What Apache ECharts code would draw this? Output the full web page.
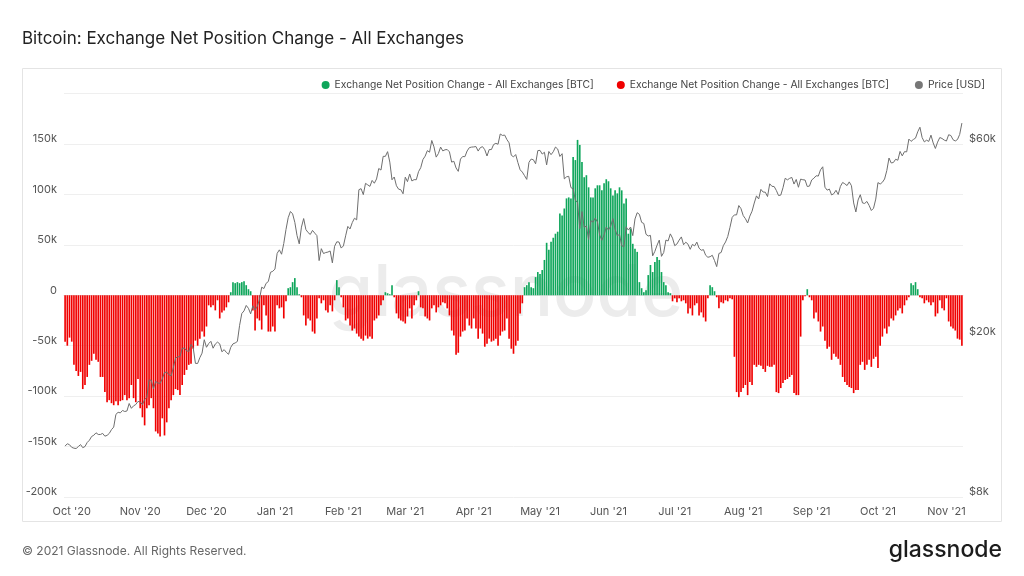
<!DOCTYPE html>
<html>
<head>
<meta charset="utf-8">
<title>Bitcoin: Exchange Net Position Change - All Exchanges</title>
<script src="https://cdn.jsdelivr.net/npm/echarts@6/dist/echarts.min.js"></script>
<style>
html, body { margin: 0; padding: 0; background: #fff; }
#chart { width: 1024px; height: 576px; }
</style>
</head>
<body>
<div id="chart"></div>
<script>
// daily values from 2020-09-28 to 2021-11-08
var firstDay = [2020, 8, 28];
var monthNames = ['Jan','Feb','Mar','Apr','May','Jun','Jul','Aug','Sep','Oct','Nov','Dec'];

// exchange net position change, thousands of BTC
var netChange2020 = [
  -46, -50, -42,
  // Oct
  -46, -69, -75, -80, -76, -93, -89, -81, -69, -65, -58, -64, -66, -81, -81, -96,
  -106, -104, -107, -109, -105, -109, -105, -104, -99, -104, -102, -89, -102, -106, -83,
  // Nov
  -112, -121, -129, -112, -109, -102, -112, -135, -137, -140, -122, -139, -126, -112, -104,
  -99, -93, -94, -99, -89, -79, -74, -69, -68, -53, -45, -50, -43, -36, -41,
  // Dec
  -31, -10, -12, -10, -15, -5, -23, -17, -15, -12, -7, 3, 13, 12, 13, 12,
  13, 14, 10, 6, 4, -15, -35, -23, -25, -34, -10, -20, -36, -36, -31
];
var netChange2021 = [
  // Jan
  -36, -10, -13, -12, -23, -6, 7, 8, 13, 17, 8, 1, -2, -20, -30, -23,
  -25, -36, -38, -23, -3, -8, -5, -15, -17, -10, -16, -5, 15, 8, -2,
  // Feb
  -12, -25, -23, -30, -35, -33, -38, -41, -43, -45, -40, -43, -41, -43,
  -25, -23, -20, -10, -5, 3, 2, 1, 10, -2, -18, -23, -25, -26,
  // Mar
  -28, -21, -13, -23, -10, -5, 4, -12, -13, -21, -23, -25, -13, -10, -17, -12,
  -10, -7, -8, -13, -20, -35, -40, -59, -57, -41, -36, -35, -23, -30, -33,
  // Apr
  -23, -33, -43, -33, -38, -51, -48, -43, -46, -45, -43, -50, -40, -36, -35,
  -23, -43, -53, -58, -50, -45, -18, -8, 8, 10, 13, 8, 7, 18, 23,
  // May
  21, 25, 35, 52, 45, 53, 57, 61, 63, 81, 79, 86, 96, 97, 96, 137,
  134, 154, 149, 132, 117, 119, 107, 97, 97, 106, 109, 109, 104, 111, 115,
  // Jun
  113, 106, 99, 104, 101, 107, 104, 91, 96, 61, 66, 51, 46, 43, 13,
  7, 3, 5, 20, 30, 23, 33, 38, 35, 23, 13, 10, 3, 2, -6,
  // Jul
  -3, -7, -3, -6, -5, -8, -18, -13, -20, -10, -8, -20, -17, -22, -26, -3,
  10, 8, 4, -2, -13, -7, -8, -5, -6, -3, -4, -61, -96, -101, -96,
  // Aug
  -92, -89, -99, -86, -89, -69, -71, -69, -70, -73, -76, -70, -71, -71, -69, -96,
  -97, -92, -87, -84, -83, -81, -79, -97, -99, -99, -41, -5, -1, 6, -2,
  // Sep
  -5, -23, -17, -26, -36, -31, -45, -53, -51, -64, -58, -61, -63, -69, -81,
  -86, -89, -91, -92, -97, -94, -94, -69, -66, -74, -69, -64, -71, -63, -61,
  // Oct
  -72, -50, -41, -33, -38, -31, -23, -25, -20, -15, -13, -18, -10, -5, -2, 12,
  10, 13, 6, -2, -3, -8, -5, -7, -10, -7, -21, -18, -5, -13, -15,
  // Nov
  -3, -26, -31, -33, -35, -43, -44, -50
];

// BTC price, USD
var price2020 = [
  10700, 10840, 10780,
  10620, 10570, 10550, 10670, 10790, 10600, 10670, 10920, 11060, 11300, 11380, 11540, 11430, 11430, 11500, 11320,
  11370, 11500, 11750, 11920, 12820, 12970, 12930, 13110, 13030, 13070, 13640, 13270, 13460, 13560, 13800,
  13760, 13550, 13950, 14130, 15590, 15580, 14840, 15480, 15330, 15300, 15700, 16280, 16320, 16070, 15970,
  16730, 17680, 17800, 17820, 18680, 18720, 18420, 18370, 19110, 18730, 17150, 17140, 17720, 18180, 19630,
  18800, 19200, 19450, 18700, 19150, 19360, 19170, 18320, 18550, 18260, 18060, 18800, 19170, 19270, 19440, 21310,
  22800, 23140, 23870, 23480, 22750, 23830, 23250, 23730, 24710, 26490, 26280, 27080, 27360, 28840, 29000
];
var price2021 = [
  29370, 32130, 32780, 31970, 33990, 36820, 39370, 40800, 40250, 38350, 35570, 33920, 37320, 39190, 36820, 36180,
  35790, 36630, 36070, 35550, 30830, 33000, 32100, 32280, 32370, 32570, 30430, 33460, 34320, 34270, 33110,
  33530, 35510, 37470, 36930, 38290, 39260, 38900, 46200, 46480, 44920, 47910, 47500, 47090, 48720,
  47940, 49130, 52150, 51680, 55890, 55890, 57410, 54090, 48890, 49680, 47260, 46340, 46190, 45140,
  49630, 48380, 50540, 48560, 48930, 48910, 51210, 52380, 54880, 55960, 57750, 57230, 61190, 59000, 55640, 56800,
  58930, 57650, 58030, 58100, 57350, 54080, 54340, 52300, 51300, 55030, 55850, 55780, 57630, 58730, 58920,
  58980, 59100, 57600, 58760, 59060, 58040, 56000, 58090, 58100, 59790, 60200, 59890, 63500, 62970, 63110,
  61530, 60370, 56250, 55720, 56470, 53910, 51760, 51090, 50050, 49000, 54020, 55030, 54820, 53560, 57750,
  57830, 56630, 57210, 53240, 57470, 56430, 57380, 58930, 58280, 55860, 56750, 49150, 49720, 49880, 46760, 46450,
  43540, 42910, 37000, 40780, 37300, 37540, 34770, 38710, 38400, 39290, 38440, 35690, 34620, 35680, 37340,
  36690, 37580, 39190, 36850, 35520, 35800, 33550, 33400, 37390, 36690, 37340, 35550, 39100, 40520, 40140,
  38350, 38100, 35820, 35480, 35600, 31680, 32500, 33670, 34660, 31590, 32280, 34660, 34490, 35910, 35040,
  33570, 33900, 34660, 35290, 33750, 34240, 33860, 32880, 33820, 33520, 34260, 33100, 32700, 32820, 31780, 31420,
  31520, 31780, 30840, 29790, 32110, 32290, 33580, 34290, 35380, 37270, 39460, 40020, 40020, 42210, 41460,
  39850, 39150, 38210, 39740, 40870, 42820, 44610, 43820, 46290, 45590, 45550, 44430, 47790, 47100, 47050, 46000,
  44690, 44800, 46720, 49320, 48870, 49290, 49550, 47710, 48990, 46850, 49080, 48900, 48830, 47050, 47170,
  48850, 49330, 50030, 49940, 51770, 52660, 46860, 46080, 46370, 44850, 45160, 46050, 44960, 47090, 48150,
  47790, 47300, 48310, 47260, 42840, 40690, 43570, 44900, 42840, 42720, 43210, 42240, 41030, 41560, 43790,
  48120, 47710, 48200, 49110, 51510, 55360, 53810, 53970, 54970, 54660, 57480, 56040, 57400, 57350, 61670, 60880,
  61530, 62010, 64280, 66000, 62210, 60690, 61290, 60860, 63080, 60330, 58460, 60620, 62230, 61890, 61320,
  61000, 63230, 62940, 61450, 61010, 61530, 63330, 67570
];

var priceTicks = [8000, 20000, 60000];
var inName = 'Exchange Net Position Change - All Exchanges [BTC]';
var outName = 'Exchange Net Position Change - All Exchanges [BTC] ';
var priceName = 'Price [USD]';

var netChange = netChange2020.concat(netChange2021);
var price = price2020.concat(price2021);

var days = [];
var t0 = Date.UTC(firstDay[0], firstDay[1], firstDay[2]);
for (var i = 0; i < netChange.length; i++) {
  days.push(new Date(t0 + i * 86400000).toISOString().slice(0, 10));
}
var inflow = netChange.map(function (v) { return v > 0 ? v : '-'; });
var outflow = netChange.map(function (v) { return v < 0 ? v : '-'; });

function monthStart(idx, val) { return val.slice(8) === '01'; }

var myChart = echarts.init(document.getElementById('chart'));
var option = {
  animation: false,
  textStyle: { fontFamily: 'Inter, "Noto Sans", sans-serif' },
  title: {
    text: 'Bitcoin: Exchange Net Position Change - All Exchanges',
    left: 17, top: 25,
    textStyle: { fontSize: 17, fontWeight: 'normal', color: '#222' }
  },
  legend: {
    right: 34, top: 75,
    icon: 'circle', itemWidth: 8, itemHeight: 8, itemGap: 23,
    textStyle: { fontSize: 10.3, color: '#444' },
    data: [inName, outName, priceName]
  },
  grid: { left: 64, right: 61, top: 93.5, bottom: 79 },
  xAxis: {
    type: 'category',
    data: days,
    axisLine: { lineStyle: { color: '#e2e2e2' } },
    axisTick: { interval: monthStart, alignWithLabel: true, length: 5, lineStyle: { color: '#d0d0d0' } },
    axisLabel: {
      interval: monthStart, color: '#555', fontSize: 11, margin: 9,
      formatter: function (v) {
        return monthNames[+v.slice(5, 7) - 1] + " '" + v.slice(2, 4);
      }
    }
  },
  yAxis: [
    {
      type: 'value', min: -200, max: 200, interval: 50,
      axisLine: { show: false }, axisTick: { show: false },
      splitLine: { lineStyle: { color: '#efefef' } },
      axisLabel: {
        color: '#555', fontSize: 11, margin: 7, verticalAlign: 'bottom', lineHeight: 10,
        formatter: function (v) { return v === 200 ? '' : (v === 0 ? '0' : v + 'k'); }
      }
    },
    {
      type: 'log', logBase: 10, min: 8000, max: 80000, position: 'right',
      axisLine: { show: false }, axisTick: { show: false },
      splitLine: { show: false },
      axisLabel: {
        customValues: priceTicks,
        color: '#555', fontSize: 11, margin: 6, verticalAlign: 'bottom', lineHeight: 10,
        formatter: function (v) { return '$' + Math.round(v / 1000) + 'k'; }
      }
    }
  ],
  graphic: [
    {
      type: 'rect', silent: true,
      shape: { x: 22.5, y: 68.5, width: 979, height: 453 },
      style: { fill: 'none', stroke: '#e4e4e4', lineWidth: 1 }
    },
    {
      type: 'text', silent: true, z: 0,
      style: {
        x: 506, y: 294, text: 'glassnode', textAlign: 'center', textVerticalAlign: 'middle',
        font: '500 72px Inter, sans-serif', fill: '#ececec'
      }
    },
    {
      type: 'text', silent: true, left: 22, top: 545,
      style: { text: '\u00a9 2021 Glassnode. All Rights Reserved.', font: '12px Inter, sans-serif', fill: '#666' }
    },
    {
      type: 'text', silent: true, right: 22, top: 539,
      style: { text: 'glassnode', font: '500 23px Inter, sans-serif', fill: '#1c1c1c' }
    }
  ],
  series: [
    {
      name: inName, type: 'bar', data: inflow,
      itemStyle: { color: '#0fa65b' },
      barGap: '-100%', barCategoryGap: '25%'
    },
    {
      name: outName, type: 'bar', data: outflow,
      itemStyle: { color: '#f00000' },
      barGap: '-100%', barCategoryGap: '25%'
    },
    {
      name: priceName, type: 'line', yAxisIndex: 1, data: price,
      showSymbol: false, symbol: 'circle',
      itemStyle: { color: '#777' },
      lineStyle: { color: '#6e6e6e', width: 1 },
      z: 5
    }
  ]
};
myChart.setOption(option, true);
</script>
</body>
</html>
